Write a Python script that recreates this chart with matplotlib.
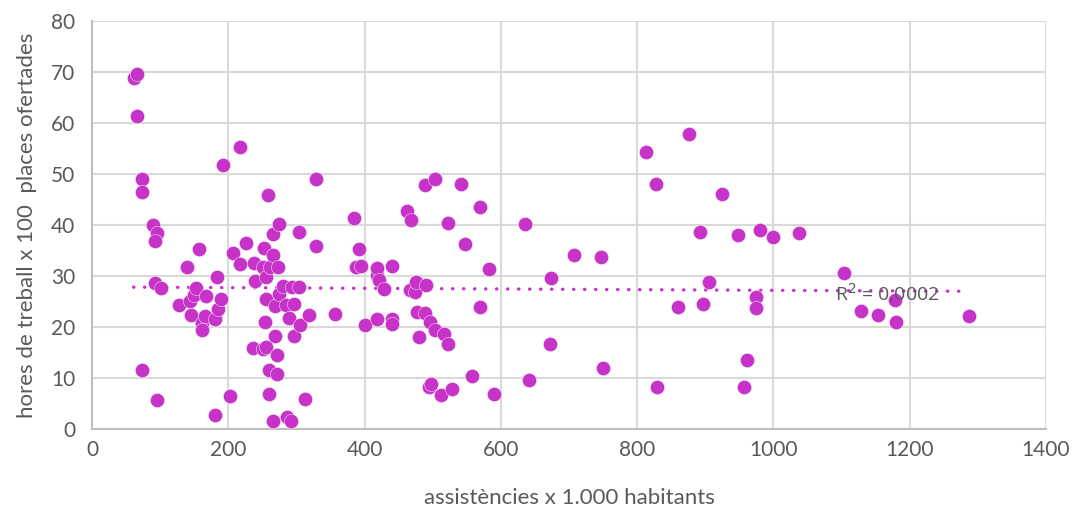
import numpy as np
import matplotlib.pyplot as plt

# assistencies x 1.000 habitants
assistencies = [61, 66, 66, 74, 74, 74, 90, 95, 93, 93, 102, 95, 128, 139, 144, 145, 149, 153,
                157, 162, 162, 166, 168, 180, 180, 183, 185, 190, 193, 202, 207, 217, 217, 226,
                237, 238, 239, 251, 251, 252, 254, 255, 255, 256, 258, 260, 260, 261, 265, 266,
                266, 268, 268, 271, 271, 273, 274, 275, 280, 285, 286, 289, 292, 293, 296, 297,
                304, 304, 305, 313, 318, 329, 329, 356, 384, 388, 392, 395, 400, 418, 419, 419,
                421, 428, 441, 441, 441, 463, 467, 468, 474, 475, 477, 480, 489, 489, 490, 494,
                496, 498, 504, 504, 512, 517, 522, 522, 529, 541, 547, 558, 569, 570, 582, 590,
                635, 642, 672, 674, 708, 747, 750, 813, 828, 829, 860, 876, 892, 897, 905, 924,
                948, 957, 962, 975, 975, 980, 1000, 1038, 1103, 1129, 1153, 1179, 1180, 1287]

# hores de treball x 100 places ofertades
hores = [68.9, 69.6, 61.3, 49.1, 46.4, 11.5, 40.0, 38.5, 36.9, 28.7, 27.6, 5.7, 24.4, 31.7, 25.0,
         22.3, 26.3, 27.7, 35.3, 20.7, 19.5, 22.2, 26.1, 21.6, 2.8, 29.9, 23.5, 25.4, 51.8, 6.4,
         34.6, 55.2, 32.3, 36.5, 15.8, 32.6, 29.1, 15.6, 31.8, 35.5, 21.0, 25.4, 29.9, 16.1, 45.9,
         11.6, 6.8, 31.8, 34.1, 38.2, 1.6, 24.1, 18.2, 14.6, 10.7, 31.8, 40.2, 26.5, 28.0, 24.4,
         2.3, 21.8, 1.6, 27.8, 24.6, 18.2, 27.9, 38.7, 20.3, 5.8, 22.4, 49.1, 35.9, 22.5, 41.4,
         31.7, 35.2, 32.0, 20.3, 30.2, 31.5, 21.6, 29.2, 27.5, 32.0, 21.5, 20.5, 42.7, 27.3, 41.0,
         26.8, 28.9, 22.9, 18.0, 47.9, 22.7, 28.2, 8.3, 21.0, 8.8, 49.0, 19.5, 6.6, 18.6, 16.7,
         40.3, 7.8, 48.1, 36.3, 10.3, 24.0, 43.6, 31.3, 6.8, 40.1, 9.6, 16.6, 29.7, 34.2, 33.8,
         12.0, 54.4, 48.1, 8.2, 23.9, 57.8, 38.7, 24.6, 28.9, 46.0, 38.1, 8.3, 13.5, 25.9, 23.7,
         39.1, 37.7, 38.5, 30.5, 23.1, 22.4, 25.2, 21.0, 22.2]

# linia de tendencia (llegida del grafic original)
trend_intercept = 27.85
trend_slope = -0.00066
r2_text = "R$^2$ = 0,0002"

color = "#C733C9"
grey_text = "#595959"

plt.rcParams['font.family'] = ['Lato', 'DejaVu Sans']

fig = plt.figure(figsize=(10.72, 5.08), dpi=100)
ax = fig.add_axes([0.0858, 0.1555, 0.8899, 0.8032])

x = np.array(assistencies, dtype=float)
y = np.array(hores, dtype=float)

# punts
ax.scatter(x, y, s=105, color=color, edgecolors="white", linewidths=0.3, zorder=3)

# linia de tendencia
xt = np.array([x.min(), x.max()])
ax.plot(xt, trend_intercept + trend_slope * xt, color=color, linewidth=2.4,
        linestyle=(0, (0.1, 3.2)), dash_capstyle="round", zorder=2)
ax.text(1090, 26.7, r2_text, fontsize=14, color=grey_text,
        family=['Open Sans', 'DejaVu Sans'], va="center", ha="left", zorder=4)

ax.set_xlim(0, 1400)
ax.set_ylim(0, 80)
ax.set_xticks(range(0, 1401, 200))
ax.set_yticks(range(0, 81, 10))

ax.grid(True, color="#D9D9D9", linewidth=1.5, zorder=0)
ax.set_axisbelow(True)
for s in ["top", "right"]:
    ax.spines[s].set_visible(False)
for s in ["left", "bottom"]:
    ax.spines[s].set_color("#BFBFBF")
    ax.spines[s].set_linewidth(1.5)

ax.tick_params(length=0, labelsize=15, colors=grey_text)
ax.tick_params(axis="y", pad=12)
ax.tick_params(axis="x", pad=8)

ax.set_xlabel("assistències x 1.000 habitants", fontsize=16, color=grey_text, labelpad=20)
ax.set_ylabel("hores de treball x 100  places ofertades", fontsize=16, color=grey_text, labelpad=10)

plt.savefig("out.png", dpi=100)
